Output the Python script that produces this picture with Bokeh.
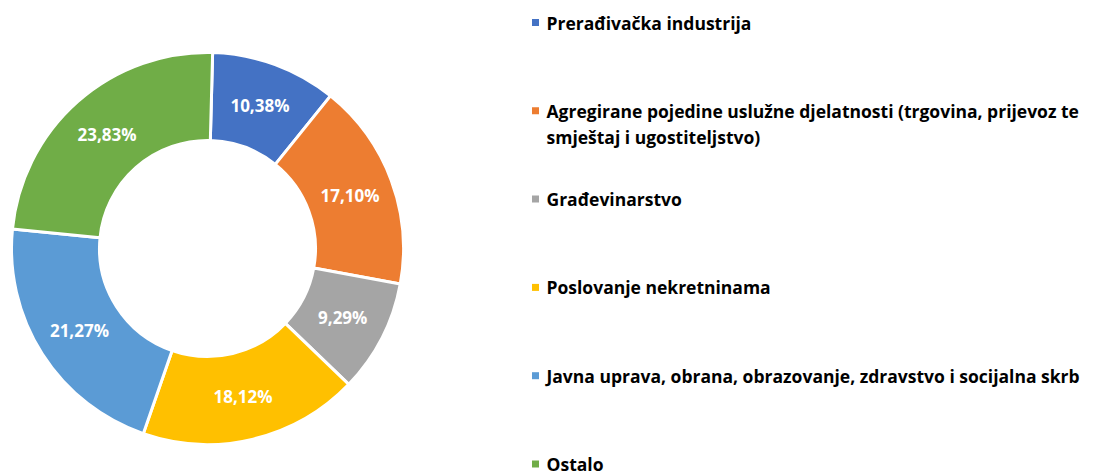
import math
from bokeh.plotting import figure
from bokeh.models import Range1d, ColumnDataSource
from bokeh.core.properties import value
from bokeh.embed import file_html
from bokeh.resources import INLINE

categories = [
    "Prerađivačka industrija",
    "Agregirane pojedine uslužne djelatnosti (trgovina, prijevoz te\nsmještaj i ugostiteljstvo)",
    "Građevinarstvo",
    "Poslovanje nekretninama",
    "Javna uprava, obrana, obrazovanje, zdravstvo i socijalna skrb",
    "Ostalo",
]
shares = [10.38, 17.10, 9.29, 18.12, 21.27, 23.83]
labels = ["10,38%", "17,10%", "9,29%", "18,12%", "21,27%", "23,83%"]
colors = ["#4472C4", "#ED7D31", "#A5A5A5", "#FFC000", "#5B9BD5", "#70AD47"]

W, H = 1093, 476
p = figure(width=W, height=H, output_backend="svg", toolbar_location=None,
           x_range=Range1d(0, W), y_range=Range1d(-H, 0),
           min_border=0)
p.axis.visible = False
p.grid.visible = False
p.outline_line_color = None
p.background_fill_color = "white"

cx, cy = 207, -248
r_in, r_out = 108, 196
offset = math.radians(1.5)
total = sum(shares)
starts, ends, lx, ly = [], [], [], []
cum = 0.0
for s in shares:
    a0 = math.pi / 2 - offset - cum / total * 2 * math.pi
    cum += s
    a1 = math.pi / 2 - offset - cum / total * 2 * math.pi
    starts.append(a0)
    ends.append(a1)
    mid = (a0 + a1) / 2
    rm = (r_in + r_out) / 2
    lx.append(cx + rm * math.cos(mid))
    ly.append(cy + rm * math.sin(mid))

src = ColumnDataSource(dict(start=starts, end=ends, color=colors, lx=lx, ly=ly, label=labels))
p.annular_wedge(x=cx, y=cy, inner_radius=r_in, outer_radius=r_out,
                start_angle="start", end_angle="end", direction="clock",
                fill_color="color", line_color="white", line_width=3, source=src)
p.text(x="lx", y="ly", text="label", source=src, text_color="white",
       text_font=value("Open Sans"), text_font_style="bold", text_font_size="17px",
       text_align="center", text_baseline="middle")

# legend
row0, step = 22, 88.3
ry = [-(row0 + i * step) for i in range(len(categories))]
leg = ColumnDataSource(dict(y=ry, ty=[v + 12 for v in ry], color=colors, text=categories,
                            mx=[535] * len(categories), tx=[546] * len(categories)))
p.scatter(x="mx", y="y", marker="square", size=7, fill_color="color", line_color=None, source=leg)
p.text(x="tx", y="ty", text="text", source=leg, text_color="black",
       text_font=value("Open Sans"), text_font_style="bold", text_font_size="17.5px",
       text_align="left", text_baseline="top", text_line_height=1.08)

open("out.html", "w").write(file_html(p, INLINE))
